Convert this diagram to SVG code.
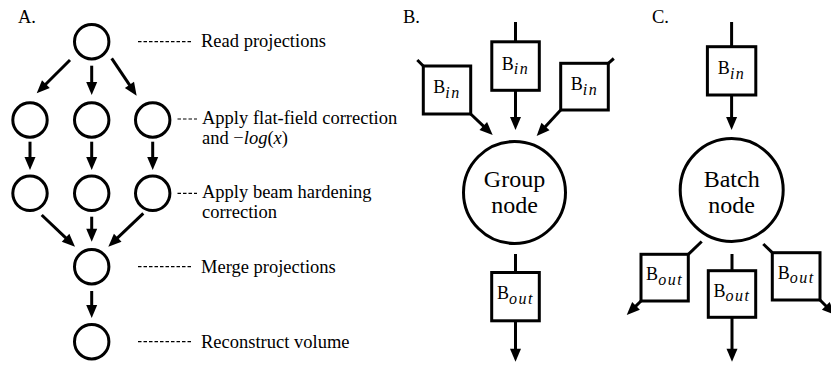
<svg xmlns="http://www.w3.org/2000/svg" width="831" height="365" viewBox="0 0 831 365">
<style>
.n{fill:none;stroke:#000;stroke-width:3}
.b{fill:#fff;stroke:#000;stroke-width:3}
.c{fill:none;stroke:#000;stroke-width:3}
.ca{fill:none;stroke:#000;stroke-width:3;marker-end:url(#ah)}
.d{fill:none;stroke:#000;stroke-width:1.2;stroke-dasharray:3.5 2}
.t{font-family:'Liberation Serif','Times New Roman','DejaVu Serif','Noto Serif',serif;fill:#000}
.lb{font-size:18.5px}
.bt{font-size:18px;text-anchor:middle}
.sub{font-size:16px;font-style:italic;letter-spacing:1.5px}
.nt{font-size:24px;text-anchor:middle}
</style>
<defs>
<marker id="ah" markerUnits="userSpaceOnUse" markerWidth="13" markerHeight="11" refX="1" refY="5.5" orient="auto" overflow="visible">
<path d="M0,0 L13,5.5 L0,11 z" fill="#000"/>
</marker>
</defs>
<rect width="831" height="365" fill="#fff"/>

<g class="t" font-family="Liberation Serif, Times New Roman, DejaVu Serif, serif">
<!-- Panel labels -->
<text class="lb" x="18" y="23.3">A.</text>
<text class="lb" x="403" y="23.3">B.</text>
<text class="lb" x="652" y="23.3">C.</text>

<!-- Panel A nodes -->
<g id="a-read"><circle class="n" cx="91.7" cy="41.7" r="17.2"/></g>
<g id="a-ff1"><circle class="n" cx="30" cy="120" r="17.2"/></g>
<g id="a-ff2"><circle class="n" cx="91.7" cy="120" r="17.2"/></g>
<g id="a-ff3"><circle class="n" cx="152.7" cy="120" r="17.2"/></g>
<g id="a-bh1"><circle class="n" cx="30" cy="193.3" r="17.2"/></g>
<g id="a-bh2"><circle class="n" cx="91.7" cy="193.3" r="17.2"/></g>
<g id="a-bh3"><circle class="n" cx="152.7" cy="193.3" r="17.2"/></g>
<g id="a-merge"><circle class="n" cx="91.7" cy="266.7" r="17.2"/></g>
<g id="a-recon"><circle class="n" cx="91.7" cy="341.7" r="17.2"/></g>

<!-- Panel A annotations -->
<g id="a-labels">
<line class="d" x1="138" y1="41.7" x2="193" y2="41.7"/>
<text class="lb" x="201" y="46.5">Read projections</text>
<line class="d" x1="177.5" y1="119" x2="197" y2="119"/>
<text class="lb" x="202" y="124">Apply flat-field correction</text>
<text class="lb" x="202" y="143.5">and −<tspan font-style="italic">log</tspan>(<tspan font-style="italic">x</tspan>)</text>
<line class="d" x1="177.5" y1="193.3" x2="197" y2="193.3"/>
<text class="lb" x="202" y="198.3">Apply beam hardening</text>
<text class="lb" x="202" y="218">correction</text>
<line class="d" x1="138" y1="266.7" x2="193" y2="266.7"/>
<text class="lb" x="201" y="272.5">Merge projections</text>
<line class="d" x1="138" y1="341.7" x2="193" y2="341.7"/>
<text class="lb" x="201" y="348">Reconstruct volume</text>
</g>

<!-- Panel B nodes -->
<g id="b-in-center">
<rect class="b" x="491.8" y="41.8" width="47.5" height="48.5"/>
<text class="bt" x="515.5" y="69.5">B<tspan class="sub" dy="4.5">in</tspan></text>
</g>
<g id="b-in-left">
<rect class="b" x="423.3" y="66" width="47.4" height="48"/>
<text class="bt" x="447" y="93">B<tspan class="sub" dy="4.5">in</tspan></text>
</g>
<g id="b-in-right">
<rect class="b" x="560.7" y="63.3" width="47.6" height="46.7"/>
<text class="bt" x="584.5" y="90">B<tspan class="sub" dy="4.5">in</tspan></text>
</g>
<g id="b-group">
<circle class="n" cx="514.5" cy="192.5" r="51"/>
<text class="nt" x="514.5" y="186.7">Group</text>
<text class="nt" x="514.5" y="213.3">node</text>
</g>
<g id="b-out">
<rect class="b" x="491.7" y="272.5" width="47.6" height="48.3"/>
<text class="bt" x="515.5" y="299">B<tspan class="sub" dy="4.5">out</tspan></text>
</g>

<!-- Panel C nodes -->
<g id="c-in">
<rect class="b" x="707.4" y="46.7" width="48.4" height="48.3"/>
<text class="bt" x="731.6" y="74">B<tspan class="sub" dy="4.5">in</tspan></text>
</g>
<g id="c-batch">
<circle class="n" cx="731.7" cy="190" r="51.5"/>
<text class="nt" x="731.7" y="186.7">Batch</text>
<text class="nt" x="731.7" y="212.5">node</text>
</g>
<g id="c-out-left">
<rect class="b" x="641" y="254.3" width="47.3" height="46.7"/>
<text class="bt" x="664.6" y="280">B<tspan class="sub" dy="4.5">out</tspan></text>
</g>
<g id="c-out-center">
<rect class="b" x="708.3" y="270.7" width="47.4" height="46.6"/>
<text class="bt" x="732" y="296.5">B<tspan class="sub" dy="4.5">out</tspan></text>
</g>
<g id="c-out-right">
<rect class="b" x="772.3" y="252.7" width="47.7" height="47.3"/>
<text class="bt" x="796.2" y="278.5">B<tspan class="sub" dy="4.5">out</tspan></text>
</g>
</g>

<!-- Connectors -->
<g id="connectors">
<line class="ca" x1="70" y1="60" x2="45.2" y2="84.8"/>
<line class="ca" x1="91.7" y1="65.7" x2="91.7" y2="83"/>
<line class="ca" x1="111.7" y1="58.3" x2="130" y2="85.7"/>
<line class="ca" x1="30" y1="141.7" x2="30" y2="158"/>
<line class="ca" x1="91.7" y1="141.7" x2="91.7" y2="158"/>
<line class="ca" x1="152.7" y1="141.7" x2="152.7" y2="158"/>
<line class="ca" x1="41.7" y1="215" x2="66.3" y2="238.4"/>
<line class="ca" x1="91.7" y1="216.7" x2="91.7" y2="229.7"/>
<line class="ca" x1="143.3" y1="213.3" x2="117" y2="238.4"/>
<line class="ca" x1="91.7" y1="291" x2="91.7" y2="306"/>
<line class="c" x1="515.5" y1="22" x2="515.5" y2="41.8"/>
<line class="ca" x1="515.5" y1="90.3" x2="515.5" y2="118"/>
<line class="c" x1="417.3" y1="60" x2="423.3" y2="66"/>
<line class="ca" x1="470.7" y1="114" x2="484" y2="126.7"/>
<line class="c" x1="608.3" y1="63.3" x2="613.8" y2="58.5"/>
<line class="ca" x1="560.7" y1="110" x2="544.8" y2="127.2"/>
<line class="c" x1="515.5" y1="254" x2="515.5" y2="272.5"/>
<line class="ca" x1="515.5" y1="320.8" x2="515.5" y2="349.7"/>
<line class="c" x1="731.6" y1="22" x2="731.6" y2="46.7"/>
<line class="ca" x1="731.6" y1="95" x2="731.6" y2="118"/>
<line class="c" x1="688.3" y1="254.3" x2="701.7" y2="241.5"/>
<line class="ca" x1="641" y1="301" x2="635.3" y2="306.6"/>
<line class="c" x1="732" y1="254" x2="732" y2="270.7"/>
<line class="ca" x1="732" y1="317.3" x2="732" y2="349.7"/>
<line class="c" x1="772.3" y1="252.7" x2="763.3" y2="244"/>
<line class="ca" x1="820" y1="300" x2="826.5" y2="306.5"/>
</g>
</svg>
